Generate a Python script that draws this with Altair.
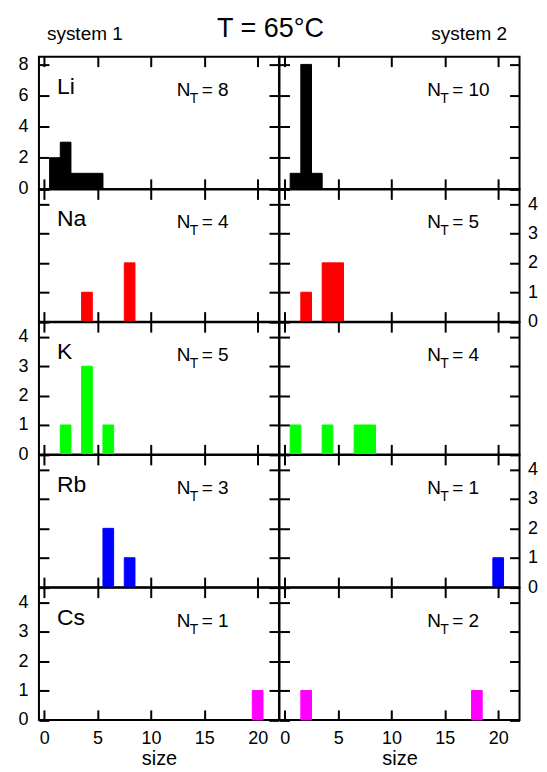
import altair as alt
import pandas as pd

FONT = "Liberation Sans"

elements = ["Li", "Na", "K", "Rb", "Cs"]
colors = ["#000000", "#ff0000", "#00ff00", "#0000ff", "#ff00ff"]

# system 1 histograms (cluster size -> count)
li_s1_size = [1, 2, 3, 4, 5]
li_s1_count = [2, 3, 1, 1, 1]
na_s1_size = [4, 8]
na_s1_count = [1, 2]
k_s1_size = [2, 4, 6]
k_s1_count = [1, 3, 1]
rb_s1_size = [6, 8]
rb_s1_count = [2, 1]
cs_s1_size = [20]
cs_s1_count = [1]

# system 2 histograms
li_s2_size = [1, 2, 3]
li_s2_count = [1, 8, 1]
na_s2_size = [2, 4, 5]
na_s2_count = [1, 2, 2]
k_s2_size = [1, 4, 7, 8]
k_s2_count = [1, 1, 1, 1]
rb_s2_size = [20]
rb_s2_count = [1]
cs_s2_size = [2, 18]
cs_s2_count = [1, 1]

nt_sys1 = [8, 4, 5, 3, 1]
nt_sys2 = [10, 5, 4, 1, 2]

x_ticks = [0, 5, 10, 15, 20]
x_domain = [-0.5, 22]
y_ticks_li = [0, 2, 4, 6, 8]
y_ticks_other = [0, 1, 2, 3, 4]
y_domain_li = [0, 8.5]
y_domain_other = [0, 4.5]

sys1 = [(li_s1_size, li_s1_count), (na_s1_size, na_s1_count), (k_s1_size, k_s1_count),
        (rb_s1_size, rb_s1_count), (cs_s1_size, cs_s1_count)]
sys2 = [(li_s2_size, li_s2_count), (na_s2_size, na_s2_count), (k_s2_size, k_s2_count),
        (rb_s2_size, rb_s2_count), (cs_s2_size, cs_s2_count)]

W, H = 240.5, 132.5


def tick_axis(orient, offset, values):
    return alt.Axis(orient=orient, offset=offset, values=values, labels=False, domain=False,
                    grid=False, ticks=True, tickSize=10, tickWidth=2, tickColor="black", title=None)


def text_layer(txt, x, y, size, align="left"):
    return alt.Chart(pd.DataFrame({"t": [txt]})).mark_text(
        align=align, baseline="alphabetic", fontSize=size, font=FONT, color="black"
    ).encode(x=alt.value(x), y=alt.value(y), text="t:N")


def panel(row, col):
    sizes, counts = (sys1 if col == 0 else sys2)[row]
    nt = (nt_sys1 if col == 0 else nt_sys2)[row]
    color = colors[row]
    ydom = y_domain_li if row == 0 else y_domain_other
    yvals = y_ticks_li if row == 0 else y_ticks_other
    xs = alt.Scale(domain=x_domain, nice=False, zero=False)
    ys = alt.Scale(domain=ydom, nice=False)

    base = alt.Chart(pd.DataFrame({"size": sizes, "count": counts})).transform_calculate(
        lo="datum.size - 0.5", hi="datum.size + 0.5")

    bars = base.mark_rect(color=color, stroke=color, strokeWidth=1).encode(
        x=alt.X("lo:Q", scale=xs, axis=tick_axis("top", -H, x_ticks)),
        x2="hi:Q",
        y=alt.Y("count:Q", scale=ys, axis=tick_axis("right", -W, yvals)),
        y2=alt.datum(0),
    )
    ghost = base.mark_rect(opacity=0).encode(
        x=alt.X("lo:Q", scale=xs, axis=tick_axis("bottom", -H, x_ticks)),
        x2="hi:Q",
        y=alt.Y("count:Q", scale=ys, axis=tick_axis("left", -W, yvals)),
        y2=alt.datum(0),
    )
    if row == 4:
        xaxis = alt.Axis(orient="bottom", values=x_ticks, ticks=False, tickSize=0, domain=False,
                         grid=False, labelFontSize=18, labelPadding=10, labelFont=FONT,
                         labelColor="black", title="size", titleFontSize=20,
                         titleFontWeight="normal", titleFont=FONT, titleColor="black",
                         titlePadding=1)
    else:
        xaxis = None
    show_y = (col == 0 and row in (0, 2, 4)) or (col == 1 and row in (1, 3))
    if show_y:
        yaxis = alt.Axis(orient="left" if col == 0 else "right", values=yvals, ticks=False,
                         tickSize=0, domain=False, grid=False, labelFontSize=18,
                         labelPadding=11 if col == 0 else 8, labelFont=FONT,
                         labelColor="black", title=None)
    else:
        yaxis = None
    labels = base.mark_rect(opacity=0).encode(
        x=alt.X("lo:Q", scale=xs, axis=xaxis),
        x2="hi:Q",
        y=alt.Y("count:Q", scale=ys, axis=yaxis),
        y2=alt.datum(0),
    )

    layers = [bars, ghost, labels]
    x0 = 138 if col == 0 else 148
    layers.append(text_layer("N", x0, 39, 19))
    layers.append(text_layer("T", x0 + 13, 46, 14))
    layers.append(text_layer(f"= {nt}", x0 + 25, 39, 19))
    if col == 0:
        layers.append(text_layer(elements[row], 18, 37, 23))
    if row == 0:
        if col == 0:
            layers.append(text_layer("system 1", 46, -17, 19, "center"))
            layers.append(text_layer("T = 65°C", 232, -20, 27, "center"))
        else:
            layers.append(text_layer("system 2", 190, -17, 19, "center"))

    return alt.layer(*layers).resolve_axis(x="independent", y="independent").properties(
        width=W, height=H)


panels = [panel(r, c) for r in range(5) for c in range(2)]
chart = alt.concat(*panels, columns=2, spacing=0, bounds="flush").properties(
    padding={"left": 8, "top": 5, "right": 0, "bottom": 0}
).configure_view(stroke="black", strokeWidth=2)

chart.save("out.html", embed_options={"renderer": "svg", "actions": False})
